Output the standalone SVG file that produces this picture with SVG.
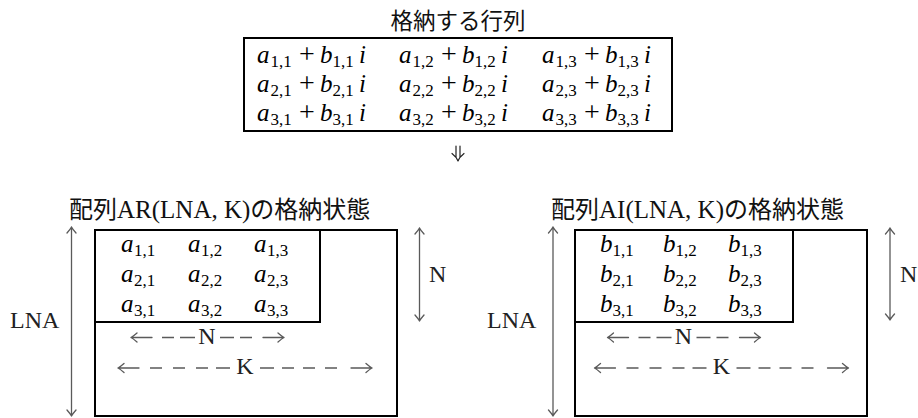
<svg xmlns="http://www.w3.org/2000/svg" width="918" height="418" viewBox="0 0 918 418">
<style>
.bg{fill:#fff}
.cjk{font-family:"Noto Sans CJK JP","Noto Sans",sans-serif;font-size:24px;fill:#111}
.rm{font-family:"Liberation Serif","DejaVu Serif",serif;font-size:25px;font-style:normal;fill:#111}
.m{font-family:"Liberation Serif","DejaVu Serif",serif;font-size:25px;font-style:italic;fill:#000}
.s{font-style:normal;font-size:17px}
.up{font-style:normal;font-size:28px}
.box{fill:none;stroke:#000;stroke-width:2}
.dim{fill:none;stroke:#5a5a5a;stroke-width:1.3;stroke-linecap:round;stroke-linejoin:round}
.dash{fill:none;stroke:#5a5a5a;stroke-width:1.4}
.lbl{font-family:"Liberation Serif","DejaVu Serif",serif;font-size:24px;fill:#222}
</style>
<defs>
<g id="hrows">
<path class="dim" d="M131,337.5 H152 M137,333 Q133,336.5 131,337.5 Q133,338.5 137,342 M263,337.5 H284 M278,333 Q282,336.5 284,337.5 Q282,338.5 278,342"/>
<path class="dash" d="M162,337.5 H174 M180,337.5 H195 M220,337.5 H234 M240,337.5 H252"/>
<text class="lbl" x="207" y="344" text-anchor="middle">N</text>
<path class="dim" d="M118,368 H139 M124,363.5 Q120,367 118,368 Q120,369 124,372.5 M351,368 H372 M366,363.5 Q370,367 372,368 Q370,369 366,372.5"/>
<path class="dash" d="M150,368 H162 M173,368 H185 M196,368 H208 M216,368 H230 M260,368 H274 M282,368 H294 M303,368 H315 M325,368 H337"/>
<text class="lbl" x="245" y="373.5" text-anchor="middle">K</text>
</g>
</defs>
<rect class="bg" x="0" y="0" width="918" height="418"/>

<g id="matrix">
<text class="cjk" x="458" y="29" text-anchor="middle" style="font-size:22.5px">格納する行列</text>
<rect class="box" x="244" y="38" width="428" height="93"/>
<g class="m">
<text y="63"><tspan x="257">a</tspan><tspan class="s" x="270.5" dy="4">1,1</tspan><tspan class="up" x="299" dy="-4">+</tspan><tspan x="320">b</tspan><tspan class="s" x="332.5" dy="4">1,1</tspan><tspan x="359" dy="-4">i</tspan></text>
<text y="63"><tspan x="399">a</tspan><tspan class="s" x="412.5" dy="4">1,2</tspan><tspan class="up" x="441" dy="-4">+</tspan><tspan x="462">b</tspan><tspan class="s" x="474.5" dy="4">1,2</tspan><tspan x="501" dy="-4">i</tspan></text>
<text y="63"><tspan x="542">a</tspan><tspan class="s" x="555.5" dy="4">1,3</tspan><tspan class="up" x="584" dy="-4">+</tspan><tspan x="605">b</tspan><tspan class="s" x="617.5" dy="4">1,3</tspan><tspan x="644" dy="-4">i</tspan></text>
<text y="92"><tspan x="257">a</tspan><tspan class="s" x="270.5" dy="4">2,1</tspan><tspan class="up" x="299" dy="-4">+</tspan><tspan x="320">b</tspan><tspan class="s" x="332.5" dy="4">2,1</tspan><tspan x="359" dy="-4">i</tspan></text>
<text y="92"><tspan x="399">a</tspan><tspan class="s" x="412.5" dy="4">2,2</tspan><tspan class="up" x="441" dy="-4">+</tspan><tspan x="462">b</tspan><tspan class="s" x="474.5" dy="4">2,2</tspan><tspan x="501" dy="-4">i</tspan></text>
<text y="92"><tspan x="542">a</tspan><tspan class="s" x="555.5" dy="4">2,3</tspan><tspan class="up" x="584" dy="-4">+</tspan><tspan x="605">b</tspan><tspan class="s" x="617.5" dy="4">2,3</tspan><tspan x="644" dy="-4">i</tspan></text>
<text y="121"><tspan x="257">a</tspan><tspan class="s" x="270.5" dy="4">3,1</tspan><tspan class="up" x="299" dy="-4">+</tspan><tspan x="320">b</tspan><tspan class="s" x="332.5" dy="4">3,1</tspan><tspan x="359" dy="-4">i</tspan></text>
<text y="121"><tspan x="399">a</tspan><tspan class="s" x="412.5" dy="4">3,2</tspan><tspan class="up" x="441" dy="-4">+</tspan><tspan x="462">b</tspan><tspan class="s" x="474.5" dy="4">3,2</tspan><tspan x="501" dy="-4">i</tspan></text>
<text y="121"><tspan x="542">a</tspan><tspan class="s" x="555.5" dy="4">3,3</tspan><tspan class="up" x="584" dy="-4">+</tspan><tspan x="605">b</tspan><tspan class="s" x="617.5" dy="4">3,3</tspan><tspan x="644" dy="-4">i</tspan></text>
</g>
</g>

<g id="connectors">
<path fill="none" stroke="#222" stroke-width="1.2" stroke-linecap="round" stroke-linejoin="round" d="M456,146 V157 M460,146 V157 M452,153.5 Q456.5,157 458,161 Q459.5,157 464,153.5"/>
</g>

<g id="array-AR">
<text x="69" y="218"><tspan class="cjk">配列</tspan><tspan class="rm">AR(LNA, K)</tspan><tspan class="cjk">の格納状態</tspan></text>
<rect class="box" x="95" y="230" width="302" height="186"/>
<path class="box" d="M95,322 H320 V230"/>
<g class="m">
<text y="252"><tspan x="121">a</tspan><tspan class="s" x="134" dy="4">1,1</tspan></text>
<text y="252"><tspan x="188">a</tspan><tspan class="s" x="201" dy="4">1,2</tspan></text>
<text y="252"><tspan x="254">a</tspan><tspan class="s" x="267" dy="4">1,3</tspan></text>
<text y="282"><tspan x="121">a</tspan><tspan class="s" x="134" dy="4">2,1</tspan></text>
<text y="282"><tspan x="188">a</tspan><tspan class="s" x="201" dy="4">2,2</tspan></text>
<text y="282"><tspan x="254">a</tspan><tspan class="s" x="267" dy="4">2,3</tspan></text>
<text y="312"><tspan x="121">a</tspan><tspan class="s" x="134" dy="4">3,1</tspan></text>
<text y="312"><tspan x="188">a</tspan><tspan class="s" x="201" dy="4">3,2</tspan></text>
<text y="312"><tspan x="254">a</tspan><tspan class="s" x="267" dy="4">3,3</tspan></text>
</g>
<path class="dim" d="M71.5,227 V416 M67,233 Q70.5,229 71.5,227 Q72.5,229 76,233 M67,410 Q70.5,414 71.5,416 Q72.5,414 76,410"/>
<text class="lbl" x="10" y="328">LNA</text>
<path class="dim" d="M419.5,228 V321 M415,234 Q418.5,230 419.5,228 Q420.5,230 424,234 M415,315 Q418.5,319 419.5,321 Q420.5,319 424,315"/>
<text class="lbl" x="429" y="282">N</text>
<use href="#hrows"/>
</g>

<g id="array-AI">
<text x="551" y="218"><tspan class="cjk">配列</tspan><tspan class="rm">AI(LNA, K)</tspan><tspan class="cjk">の格納状態</tspan></text>
<rect class="box" x="575" y="230" width="292" height="186"/>
<path class="box" d="M575,322 H793 V230"/>
<g class="m">
<text y="252"><tspan x="600">b</tspan><tspan class="s" x="612.5" dy="4">1,1</tspan></text>
<text y="252"><tspan x="663">b</tspan><tspan class="s" x="675.5" dy="4">1,2</tspan></text>
<text y="252"><tspan x="728">b</tspan><tspan class="s" x="740.5" dy="4">1,3</tspan></text>
<text y="282"><tspan x="600">b</tspan><tspan class="s" x="612.5" dy="4">2,1</tspan></text>
<text y="282"><tspan x="663">b</tspan><tspan class="s" x="675.5" dy="4">2,2</tspan></text>
<text y="282"><tspan x="728">b</tspan><tspan class="s" x="740.5" dy="4">2,3</tspan></text>
<text y="312"><tspan x="600">b</tspan><tspan class="s" x="612.5" dy="4">3,1</tspan></text>
<text y="312"><tspan x="663">b</tspan><tspan class="s" x="675.5" dy="4">3,2</tspan></text>
<text y="312"><tspan x="728">b</tspan><tspan class="s" x="740.5" dy="4">3,3</tspan></text>
</g>
<path class="dim" d="M553,227 V416 M548.5,233 Q552,229 553,227 Q554,229 557.5,233 M548.5,410 Q552,414 553,416 Q554,414 557.5,410"/>
<text class="lbl" x="487" y="328">LNA</text>
<path class="dim" d="M890,228 V320 M885.5,234 Q889,230 890,228 Q891,230 894.5,234 M885.5,314 Q889,318 890,320 Q891,318 894.5,314"/>
<text class="lbl" x="900" y="282">N</text>
<use href="#hrows" transform="translate(476.5,0)"/>
</g>
</svg>
